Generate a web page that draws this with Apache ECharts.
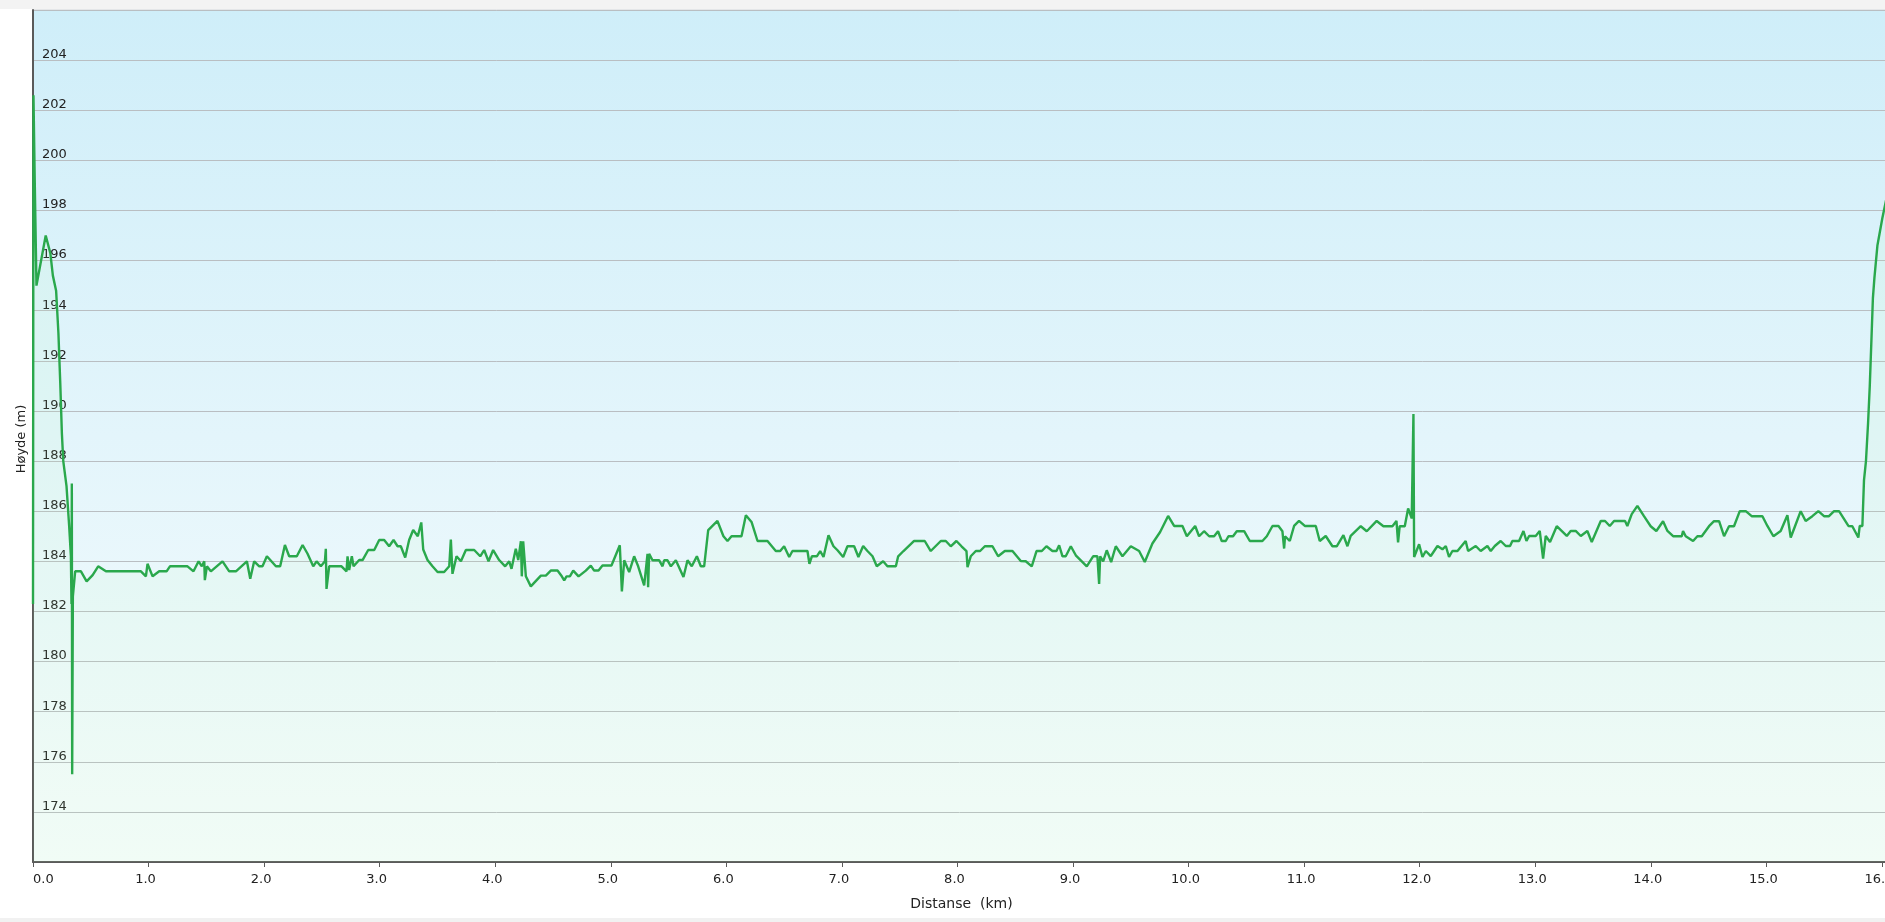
<!DOCTYPE html>
<html>
<head>
<meta charset="utf-8">
<script src="https://cdn.jsdelivr.net/npm/echarts@6/dist/echarts.min.js"></script>
<style>
  html, body { margin: 0; padding: 0; background: #ffffff; overflow: hidden; }
  #chart { width: 1885px; height: 922px; }
</style>
</head>
<body>
<div id="chart"></div>
<script>
// Distance along route (km)
const distKm = [
  0.000, 0.004, 0.015, 0.030, 0.110, 0.150, 0.172, 0.200, 0.220, 0.236, 0.250, 0.262, 0.290, 0.313, 0.328, 0.333, 0.336, 0.339, 0.345, 0.365,
  0.415, 0.464, 0.516, 0.564, 0.631, 0.934, 0.977, 0.991, 1.035, 1.092, 1.156, 1.185, 1.337, 1.389, 1.433, 1.461, 1.482, 1.487, 1.505, 1.539,
  1.640, 1.698, 1.756, 1.851, 1.880, 1.914, 1.958, 1.986, 2.024, 2.102, 2.139, 2.180, 2.217, 2.283, 2.333, 2.376, 2.425, 2.454, 2.491, 2.526,
  2.534, 2.540, 2.563, 2.670, 2.713, 2.722, 2.736, 2.759, 2.774, 2.823, 2.852, 2.901, 2.953, 2.996, 3.039, 3.082, 3.120, 3.155, 3.183, 3.221,
  3.255, 3.290, 3.330, 3.360, 3.377, 3.414, 3.457, 3.501, 3.558, 3.602, 3.616, 3.630, 3.665, 3.703, 3.746, 3.818, 3.870, 3.904, 3.942, 3.982,
  4.034, 4.086, 4.121, 4.141, 4.178, 4.199, 4.222, 4.230, 4.242, 4.265, 4.308, 4.395, 4.438, 4.481, 4.539, 4.576, 4.597, 4.617, 4.646, 4.675,
  4.721, 4.784, 4.827, 4.856, 4.894, 4.928, 5.006, 5.078, 5.096, 5.116, 5.159, 5.202, 5.237, 5.289, 5.318, 5.323, 5.332, 5.361, 5.419, 5.448,
  5.462, 5.491, 5.520, 5.563, 5.629, 5.664, 5.701, 5.745, 5.779, 5.808, 5.843, 5.923, 5.975, 6.010, 6.045, 6.131, 6.169, 6.218, 6.270, 6.356,
  6.428, 6.466, 6.500, 6.544, 6.572, 6.702, 6.719, 6.740, 6.783, 6.812, 6.841, 6.884, 6.927, 6.962, 7.011, 7.048, 7.106, 7.143, 7.184, 7.221,
  7.265, 7.302, 7.357, 7.394, 7.467, 7.487, 7.533, 7.625, 7.717, 7.769, 7.856, 7.899, 7.942, 7.991, 8.035, 8.078, 8.087, 8.101, 8.115, 8.159,
  8.196, 8.237, 8.303, 8.352, 8.410, 8.476, 8.548, 8.591, 8.643, 8.684, 8.730, 8.770, 8.822, 8.857, 8.880, 8.909, 8.937, 8.981, 9.024, 9.076,
  9.119, 9.174, 9.211, 9.226, 9.235, 9.261, 9.292, 9.330, 9.370, 9.428, 9.500, 9.572, 9.621, 9.687, 9.754, 9.823, 9.875, 9.947, 9.985, 10.057,
  10.091, 10.134, 10.178, 10.221, 10.255, 10.287, 10.322, 10.345, 10.385, 10.417, 10.481, 10.530, 10.639, 10.677, 10.726, 10.778, 10.812, 10.827, 10.835, 10.876,
  10.913, 10.956, 11.006, 11.101, 11.135, 11.187, 11.245, 11.282, 11.340, 11.375, 11.403, 11.490, 11.542, 11.628, 11.686, 11.764, 11.799, 11.813, 11.827, 11.871,
  11.900, 11.931, 11.946, 11.952, 11.966, 11.995, 12.024, 12.053, 12.096, 12.154, 12.197, 12.226, 12.254, 12.283, 12.327, 12.398, 12.419, 12.485, 12.528, 12.586,
  12.615, 12.650, 12.701, 12.745, 12.782, 12.802, 12.860, 12.898, 12.924, 12.947, 13.004, 13.039, 13.068, 13.091, 13.128, 13.186, 13.273, 13.307, 13.350, 13.394,
  13.451, 13.489, 13.567, 13.604, 13.645, 13.682, 13.777, 13.797, 13.835, 13.884, 13.941, 13.999, 14.048, 14.106, 14.144, 14.193, 14.268, 14.279, 14.302, 14.366,
  14.403, 14.441, 14.504, 14.547, 14.591, 14.634, 14.677, 14.720, 14.770, 14.822, 14.873, 14.966, 15.009, 15.061, 15.124, 15.182, 15.211, 15.248, 15.297, 15.340,
  15.398, 15.450, 15.499, 15.542, 15.586, 15.629, 15.710, 15.744, 15.796, 15.808, 15.831, 15.845, 15.862, 15.880, 15.895, 15.909, 15.922, 15.935, 15.961, 16.004,
  16.040, 16.080
];

// Elevation (m)
const elevM = [
  182.3, 202.6, 199.2, 195.0, 197.0, 196.3, 195.4, 194.8, 193.1, 191.1, 189.1, 188.0, 187.0, 185.4, 184.2, 182.3, 187.1, 175.5, 182.6, 183.6,
  183.6, 183.2, 183.45, 183.8, 183.6, 183.6, 183.4, 183.9, 183.4, 183.6, 183.6, 183.8, 183.8, 183.6, 184.0, 183.8, 184.0, 183.25, 183.8, 183.6,
  184.0, 183.6, 183.6, 184.0, 183.3, 184.0, 183.8, 183.8, 184.2, 183.8, 183.8, 184.65, 184.2, 184.2, 184.65, 184.3, 183.8, 184.0, 183.8, 184.0,
  184.5, 182.9, 183.8, 183.8, 183.6, 184.2, 183.65, 184.2, 183.8, 184.05, 184.05, 184.45, 184.45, 184.85, 184.85, 184.6, 184.85, 184.6, 184.6, 184.15,
  184.85, 185.25, 185.0, 185.55, 184.47, 184.05, 183.8, 183.57, 183.57, 183.8, 184.87, 183.5, 184.2, 184.0, 184.45, 184.45, 184.2, 184.45, 184.0, 184.45,
  184.05, 183.8, 184.0, 183.7, 184.5, 184.05, 184.8, 183.4, 184.8, 183.4, 183.0, 183.43, 183.43, 183.63, 183.63, 183.4, 183.24, 183.4, 183.4, 183.63,
  183.4, 183.63, 183.83, 183.63, 183.63, 183.83, 183.83, 184.64, 182.8, 184.04, 183.57, 184.2, 183.8, 183.04, 184.3, 182.97, 184.3, 184.04, 184.04, 183.8,
  184.04, 184.04, 183.8, 184.04, 183.37, 184.04, 183.8, 184.2, 183.8, 183.8, 185.24, 185.61, 185.0, 184.81, 185.0, 185.0, 185.84, 185.57, 184.81, 184.81,
  184.41, 184.41, 184.6, 184.17, 184.41, 184.41, 183.9, 184.2, 184.2, 184.41, 184.17, 185.04, 184.6, 184.44, 184.17, 184.6, 184.6, 184.17, 184.61, 184.41,
  184.2, 183.8, 184.0, 183.8, 183.8, 184.2, 184.41, 184.81, 184.81, 184.41, 184.81, 184.81, 184.6, 184.81, 184.6, 184.41, 183.77, 183.77, 184.2, 184.41,
  184.41, 184.6, 184.6, 184.2, 184.41, 184.41, 184.01, 184.0, 183.8, 184.41, 184.41, 184.6, 184.41, 184.41, 184.64, 184.2, 184.2, 184.6, 184.24, 184.0,
  183.8, 184.2, 184.2, 183.1, 184.2, 184.0, 184.44, 183.97, 184.6, 184.2, 184.6, 184.41, 183.97, 184.71, 185.17, 185.81, 185.41, 185.41, 185.0, 185.41,
  185.0, 185.2, 185.0, 185.0, 185.2, 184.81, 184.81, 185.0, 185.0, 185.2, 185.2, 184.81, 184.81, 185.0, 185.41, 185.41, 185.2, 184.51, 185.0, 184.81,
  185.41, 185.61, 185.41, 185.41, 184.81, 185.01, 184.6, 184.6, 185.04, 184.6, 185.01, 185.4, 185.2, 185.61, 185.4, 185.4, 185.61, 184.75, 185.4, 185.4,
  186.11, 185.71, 189.88, 184.17, 184.17, 184.68, 184.17, 184.41, 184.21, 184.61, 184.48, 184.61, 184.17, 184.41, 184.41, 184.81, 184.41, 184.61, 184.41, 184.61,
  184.41, 184.61, 184.81, 184.61, 184.61, 184.81, 184.81, 185.21, 184.81, 185.01, 185.01, 185.21, 184.11, 185.01, 184.77, 185.4, 185.01, 185.21, 185.21, 185.01,
  185.21, 184.77, 185.61, 185.61, 185.41, 185.61, 185.61, 185.41, 185.88, 186.21, 185.8, 185.4, 185.21, 185.6, 185.21, 185.0, 185.0, 185.21, 185.0, 184.81,
  185.0, 185.0, 185.4, 185.6, 185.6, 185.0, 185.4, 185.4, 186.0, 186.0, 185.8, 185.8, 185.41, 185.0, 185.21, 185.84, 184.95, 185.4, 186.0, 185.61,
  185.8, 186.0, 185.8, 185.8, 186.0, 186.0, 185.41, 185.4, 184.95, 185.41, 185.41, 187.24, 188.0, 189.5, 191.0, 192.8, 194.5, 195.3, 196.6, 197.7,
  198.5, 199.2
];

// Axis settings
const yMin = 172, yMax = 206, yStep = 2;
const xMin = 0, xMax = 16.07, xStep = 1;
const xName = 'Distanse  (km)';
const yName = 'Høyde (m)';

const points = distKm.map((d, i) => [d, elevM[i]]);

const chart = echarts.init(document.getElementById('chart'), null, { renderer: 'canvas', width: 1885, height: 922 });
const FONT = 'DejaVu Sans';

chart.setOption({
  animation: false,
  backgroundColor: '#ffffff',
  graphic: [
    { type: 'rect', z: -10, shape: { x: 0, y: 0, width: 1885, height: 9 }, style: { fill: '#f3f3f3' } },
    { type: 'rect', z: -10, shape: { x: 0, y: 918, width: 1885, height: 4 }, style: { fill: '#f1f1f1' } }
  ],
  grid: {
    left: 33, right: -5, top: 10, bottom: 60,
    containLabel: false,
    outerBoundsMode: 'none',
    show: true,
    borderWidth: 1,
    borderColor: '#c9cdd0',
    backgroundColor: new echarts.graphic.LinearGradient(0, 0, 0, 1, [
      { offset: 0, color: '#cfeef9' },
      { offset: 1, color: '#f7fcfd' }
    ])
  },
  xAxis: {
    type: 'value',
    min: xMin, max: xMax, interval: xStep,
    name: xName,
    nameLocation: 'middle',
    nameGap: 35,
    nameMoveOverlap: false,
    nameTextStyle: { fontFamily: FONT, fontSize: 14, color: '#222' },
    axisLine: { show: true, lineStyle: { color: '#5a5a5a', width: 2 } },
    axisTick: { show: true, length: 5, lineStyle: { color: '#5a5a5a', width: 1 } },
    axisLabel: {
      fontFamily: FONT, fontSize: 13, color: '#222', margin: 11,
      padding: [0, 6, 0, 0],
      showMaxLabel: false,
      alignMinLabel: 'left',
      hideOverlap: false,
      formatter: v => (Math.abs(v - Math.round(v)) < 1e-6 ? v.toFixed(1) : '')
    },
    splitLine: { show: false }
  },
  yAxis: {
    type: 'value',
    min: yMin, max: yMax, interval: yStep,
    name: yName,
    nameLocation: 'middle',
    nameGap: 5,
    nameMoveOverlap: false,
    nameTextStyle: { fontFamily: FONT, fontSize: 13, color: '#222', padding: [0, 6, 0, 0] },
    axisLine: { show: true, lineStyle: { color: '#5a5a5a', width: 2 } },
    axisTick: { show: false },
    axisLabel: {
      inside: true,
      margin: 9,
      fontFamily: FONT, fontSize: 13, color: '#222',
      verticalAlign: 'bottom',
      lineHeight: 11,
      showMinLabel: false,
      showMaxLabel: false
    },
    splitLine: { show: true, lineStyle: { color: '#b9bec2', width: 1 } }
  },
  series: [{
    type: 'line',
    data: points,
    showSymbol: false,
    symbol: 'none',
    sampling: null,
    clip: true,
    lineStyle: { color: '#2aa84c', width: 2.4 },
    areaStyle: {
      origin: 'start',
      color: 'rgba(185,255,180,0.13)'
    },
    z: 3
  }]
});
</script>
</body>
</html>
